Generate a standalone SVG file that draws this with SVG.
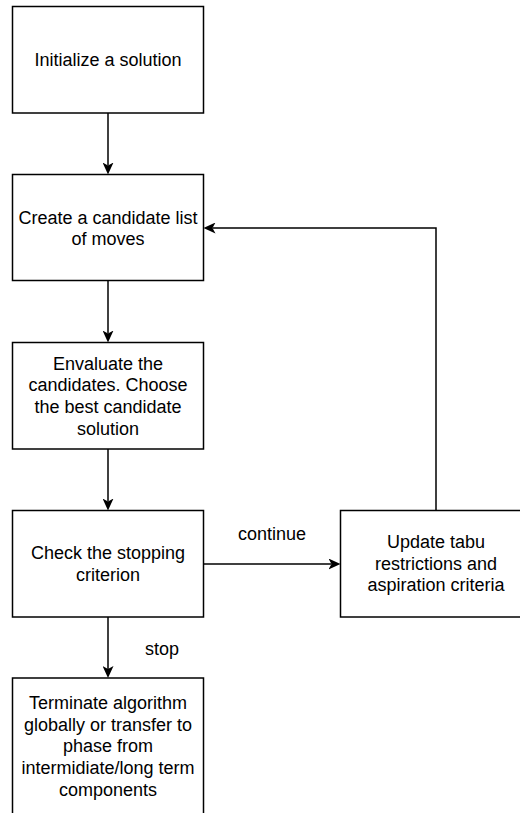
<svg xmlns="http://www.w3.org/2000/svg" width="520" height="813" viewBox="0 0 520 813">
  <style>
    .box { fill: #ffffff; stroke: #000000; stroke-width: 1.5; }
    .lbl { font-family: "Liberation Sans", Arial, Helvetica, sans-serif; font-size: 18px; fill: #000000; text-anchor: middle; }
    .edge { fill: none; stroke: #000000; stroke-width: 1.5; }
  </style>
  <defs>
    <!-- classic notched arrowhead; reference point sits at the notch -->
    <marker id="arrow" viewBox="0 0 12 11" refX="3" refY="5.5" markerWidth="12" markerHeight="11" markerUnits="userSpaceOnUse" orient="auto">
      <path d="M0,0 L12,5.5 L0,11 L3,5.5 Z" fill="#000000"/>
    </marker>
  </defs>
  <rect width="520" height="813" fill="#ffffff"/>

  <g id="connectors">
    <path class="edge" d="M108,113 L108,165.5" marker-end="url(#arrow)"/>
    <path class="edge" d="M108,281 L108,333.5" marker-end="url(#arrow)"/>
    <path class="edge" d="M108,449 L108,501.5" marker-end="url(#arrow)"/>
    <path class="edge" d="M108,617 L108,669" marker-end="url(#arrow)"/>
    <path class="edge" d="M203.5,564 L331.5,564" marker-end="url(#arrow)"/>
    <path class="edge" d="M436,510.5 L436,228 L212.5,228" marker-end="url(#arrow)"/>
    <text class="lbl" x="272" y="539.5">continue</text>
    <text class="lbl" x="162" y="654.5">stop</text>
  </g>

  <g id="init">
    <rect class="box" x="12.5" y="6.5" width="191" height="106.5"/>
    <text class="lbl" x="108" y="66">Initialize a solution</text>
  </g>

  <g id="candidates">
    <rect class="box" x="12.5" y="174.5" width="191" height="106"/>
    <text class="lbl" x="108" y="223.5">Create a candidate list</text>
    <text class="lbl" x="108" y="245.1">of moves</text>
  </g>

  <g id="evaluate">
    <rect class="box" x="12.5" y="342.5" width="191" height="106.5"/>
    <text class="lbl" x="108" y="369.8">Envaluate the</text>
    <text class="lbl" x="108" y="391.4">candidates. Choose</text>
    <text class="lbl" x="108" y="413">the best candidate</text>
    <text class="lbl" x="108" y="434.6">solution</text>
  </g>

  <g id="check">
    <rect class="box" x="12.5" y="510.5" width="191" height="106.5"/>
    <text class="lbl" x="108" y="559.4">Check the stopping</text>
    <text class="lbl" x="108" y="581">criterion</text>
  </g>

  <g id="terminate">
    <rect class="box" x="12.5" y="678" width="191" height="138"/>
    <text class="lbl" x="108" y="709.2">Terminate algorithm</text>
    <text class="lbl" x="108" y="730.8">globally or transfer to</text>
    <text class="lbl" x="108" y="752.4">phase from</text>
    <text class="lbl" x="108" y="774">intermidiate/long term</text>
    <text class="lbl" x="108" y="795.6">components</text>
  </g>

  <g id="update">
    <rect class="box" x="340.5" y="510.5" width="191" height="106.5"/>
    <text class="lbl" x="436" y="548">Update tabu</text>
    <text class="lbl" x="436" y="569.6">restrictions and</text>
    <text class="lbl" x="436" y="591.2">aspiration criteria</text>
  </g>
</svg>
